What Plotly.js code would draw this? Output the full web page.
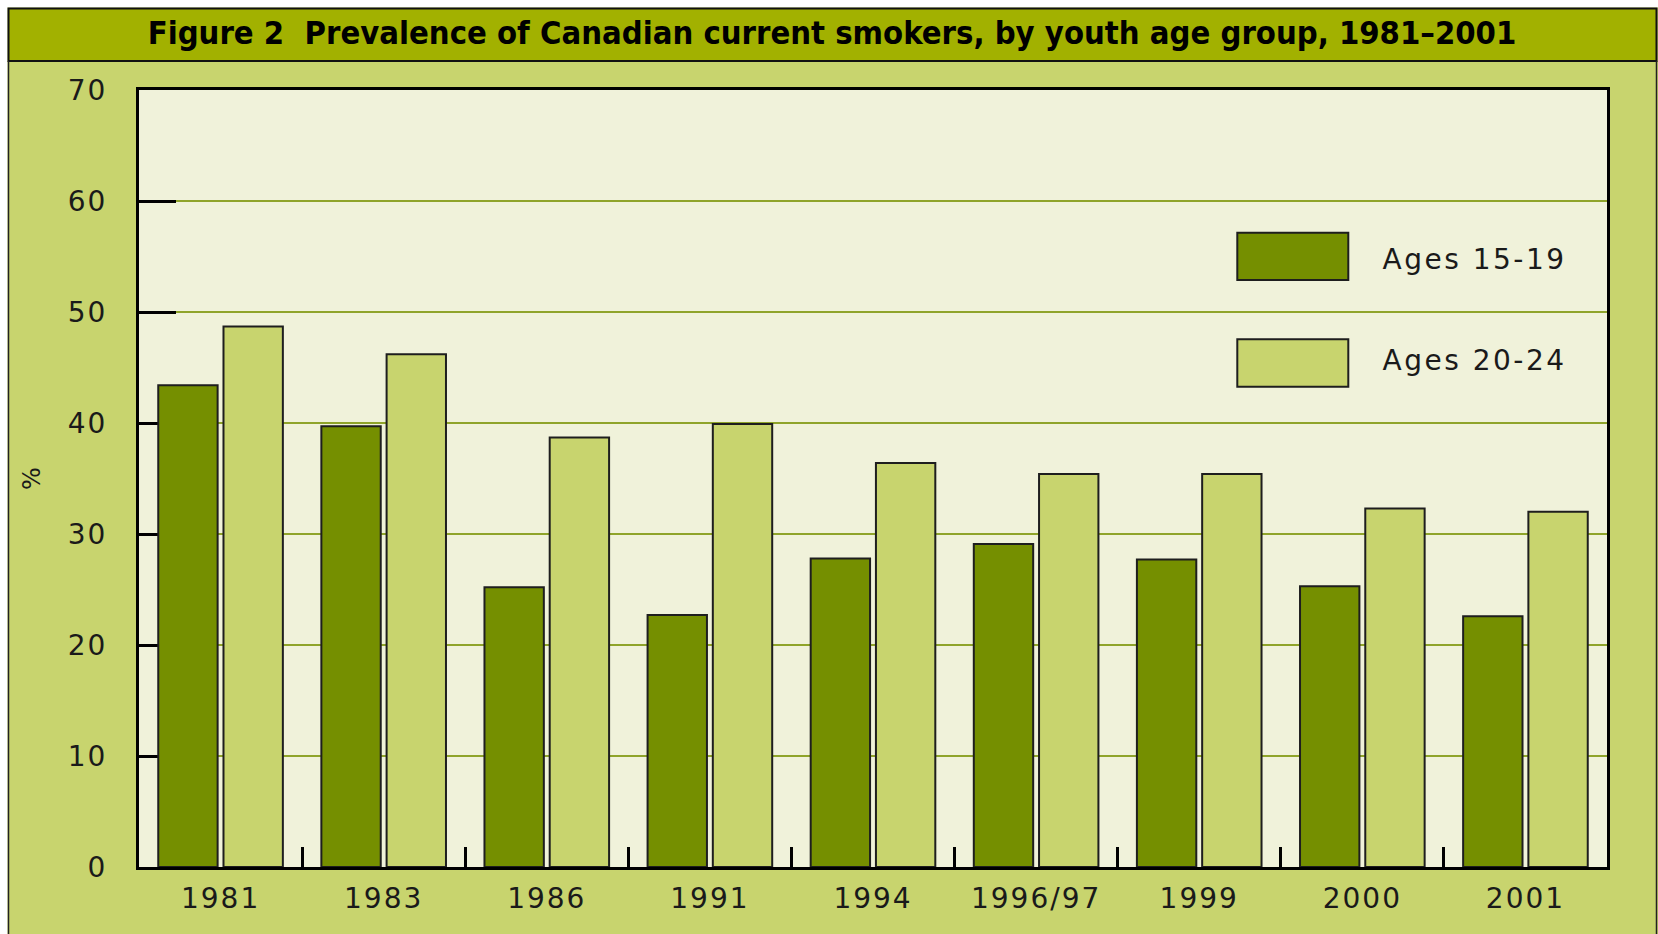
<!DOCTYPE html>
<html><head><meta charset="utf-8">
<script src="https://cdn.plot.ly/plotly-3.0.1.min.js"></script>
<style>
html,body{margin:0;padding:0;background:#fff;} #chart{width:1658px;height:934px;}
#chart .xtick text, #chart .ytick text {letter-spacing:2px;}
#chart .annotation-text {letter-spacing:2.5px;}
</style>
</head><body><div id="chart"></div>
<script>
const categories = ['1981','1983','1986','1991','1994','1996/97','1999','2000','2001'];
const ages1519 = [43.4, 39.7, 25.2, 22.7, 27.8, 29.1, 27.7, 25.3, 22.6];
const ages2024 = [48.7, 46.2, 38.7, 39.9, 36.4, 35.4, 35.4, 32.3, 32.0];
const seriesNames = ['Ages 15-19', 'Ages 20-24'];
const yTicks = [0, 10, 20, 30, 40, 50, 60, 70];
const titleText = 'Figure 2  Prevalence of Canadian current smokers, by youth age group, 1981\u20132001';

const DARK = '#758F00', LIGHT = '#C8D46E', PANEL = '#C8D46E', BAND = '#A2B100', PLOTBG = '#F0F2DA', GRID = '#8FA42A';
const W = 1658, H = 934, L = 139, R = 1607, T = 90, B = 867;
const px = x => (x - L) / (R - L);
const py = y => (B - y) / (B - T);
const FONT = 'DejaVu Sans, Liberation Sans, sans-serif';
const TXT = '#1a1a1a';

const traces = [
  {type:'bar', name:seriesNames[0], x:categories, y:ages1519,
   marker:{color:DARK, line:{color:'#1e1e1e', width:2}}, showlegend:false, hoverinfo:'x+y'},
  {type:'bar', name:seriesNames[1], x:categories, y:ages2024,
   marker:{color:LIGHT, line:{color:'#1e1e1e', width:2}}, showlegend:false, hoverinfo:'x+y'}
];

const shapes = [
  {type:'rect', xref:'paper', yref:'paper', x0:px(-10), x1:px(W+10), y0:py(7.5), y1:py(-10), fillcolor:'#fff', line:{width:0}, layer:'below'},
  {type:'rect', xref:'paper', yref:'paper', x0:px(-10), x1:px(7.5), y0:py(H+10), y1:py(-10), fillcolor:'#fff', line:{width:0}, layer:'below'},
  {type:'rect', xref:'paper', yref:'paper', x0:px(8.5), x1:px(1656.5), y0:py(61), y1:py(8.5), fillcolor:BAND, line:{color:'#111', width:2}, layer:'below'},
  {type:'line', xref:'paper', yref:'paper', x0:px(8.5), x1:px(8.5), y0:py(61), y1:py(H+5), line:{color:'#222', width:1.5}, layer:'below'},
  {type:'line', xref:'paper', yref:'paper', x0:px(1656.5), x1:px(1656.5), y0:py(61), y1:py(H+5), line:{color:'#222', width:1.5}, layer:'below'},
  {type:'rect', xref:'paper', yref:'paper', x0:px(1237.3), x1:px(1348.3), y0:py(280), y1:py(232.7), fillcolor:DARK, line:{color:'#1e1e1e', width:2}, layer:'above'},
  {type:'rect', xref:'paper', yref:'paper', x0:px(1237.3), x1:px(1348.3), y0:py(386.7), y1:py(339.3), fillcolor:LIGHT, line:{color:'#1e1e1e', width:2}, layer:'above'}
];

const annotations = [
  {xref:'paper', yref:'paper', x:px(1393), y:py(259.3), xanchor:'left', yanchor:'middle', text:seriesNames[0], showarrow:false,
   font:{family:FONT, size:28, color:TXT}},
  {xref:'paper', yref:'paper', x:px(1393), y:py(360), xanchor:'left', yanchor:'middle', text:seriesNames[1], showarrow:false,
   font:{family:FONT, size:28, color:TXT}}
];

const layout = {
  width:W, height:H,
  margin:{l:L, r:W-R, t:T, b:H-B, pad:0},
  paper_bgcolor:PANEL, plot_bgcolor:PLOTBG,
  title:{text:titleText, font:{family:'DejaVu Sans Condensed, DejaVu Sans, sans-serif', size:32.5, weight:'bold', color:'#000'},
         xref:'container', yref:'container', x:832/W, y:1-33/H, xanchor:'center', yanchor:'middle'},
  barmode:'group', bargap:0.2, bargroupgap:0.09,
  showlegend:false,
  xaxis:{type:'category', range:[-0.5, 8.5], tickson:'boundaries', ticks:'inside', ticklen:20, tickwidth:3, tickcolor:'#000',
         showline:true, linewidth:3, linecolor:'#000', mirror:true, showgrid:false, zeroline:false,
         tickfont:{family:FONT, size:28, color:TXT}, ticklabelstandoff:4, layer:'below traces', fixedrange:true},
  yaxis:{range:[0, 70], tickvals:yTicks, ticktext:yTicks.map(String), ticks:'inside', ticklen:37, tickwidth:3, tickcolor:'#000',
         showline:true, linewidth:3, linecolor:'#000', mirror:true, showgrid:true, gridcolor:GRID, gridwidth:1.5, zeroline:false,
         tickfont:{family:FONT, size:28, color:TXT}, ticklabelstandoff:23, layer:'below traces', fixedrange:true,
         title:{text:'%', font:{family:FONT, size:24, color:TXT}, standoff:25}},
  shapes:shapes, annotations:annotations
};

Plotly.newPlot('chart', traces, layout, {displayModeBar:false, staticPlot:true});
</script></body></html>
